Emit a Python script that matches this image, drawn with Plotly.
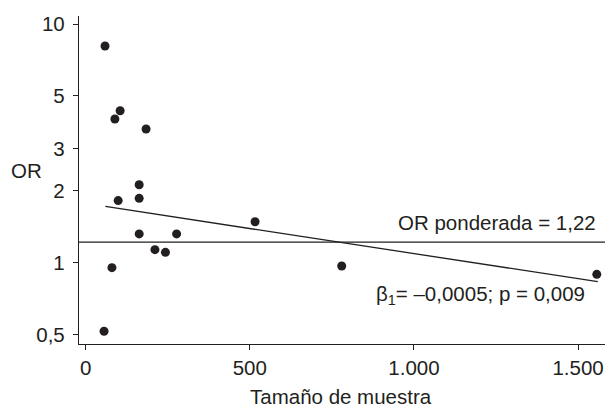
import plotly.graph_objects as go

# Data
sample_size = [59, 105, 89, 184, 163, 99, 163, 163, 277, 211, 243, 80, 56, 516, 780, 1557]
odds_ratio = [8.09, 4.33, 4.0, 3.63, 2.12, 1.82, 1.86, 1.32, 1.32, 1.134, 1.105, 0.953, 0.516, 1.485, 0.969, 0.894]

pooled_or = 1.22
reg_x = [60, 1560]
reg_or = [1.72, 0.833]

y_tickvals = [0.5, 1, 2, 3, 5, 10]
y_ticktext = ["0,5", "1", "2", "3", "5", "10"]
x_tickvals = [0, 500, 1000, 1500]
x_ticktext = ["0", "500", "1.000", "1.500"]

x_range = [-20.3, 1582]
y_range_log = [-0.3406, 1.0335]

ink = "#231f20"
font = "Liberation Sans, Arial, sans-serif"
fs = 20.5

fig = go.Figure()
fig.add_trace(go.Scatter(x=x_range, y=[pooled_or, pooled_or], mode="lines",
                         line=dict(color=ink, width=1.3), hoverinfo="skip", cliponaxis=False))
fig.add_trace(go.Scatter(x=reg_x, y=reg_or, mode="lines",
                         line=dict(color=ink, width=1.3), hoverinfo="skip"))
fig.add_trace(go.Scatter(x=sample_size, y=odds_ratio, mode="markers",
                         marker=dict(color=ink, size=9), cliponaxis=False))

fig.update_layout(
    width=605, height=409,
    margin=dict(l=79, r=0, t=16, b=65),
    paper_bgcolor="white", plot_bgcolor="white",
    showlegend=False,
    font=dict(family=font, size=fs, color=ink),
    xaxis=dict(range=x_range, tickvals=x_tickvals, ticktext=x_ticktext,
               showline=True, linecolor=ink, linewidth=1.3, ticks="outside",
               ticklen=5, tickwidth=1.3, tickcolor=ink, showgrid=False, zeroline=False,
               tickfont=dict(size=fs, color=ink), ticklabelstandoff=0),
    yaxis=dict(type="log", range=y_range_log, tickvals=y_tickvals, ticktext=y_ticktext,
               showline=True, linecolor=ink, linewidth=1.3, ticks="outside",
               ticklen=5, tickwidth=1.3, tickcolor=ink, showgrid=False, zeroline=False,
               tickfont=dict(size=fs, color=ink), ticklabelstandoff=4),
)

fig.add_annotation(text="OR", xref="paper", yref="paper", x=-0.099, y=0.53,
                   xanchor="center", yanchor="middle", showarrow=False,
                   font=dict(size=fs, color=ink))
fig.add_annotation(text="Tamaño de muestra", xref="paper", yref="paper", x=0.498, y=-0.16,
                   xanchor="center", yanchor="middle", showarrow=False,
                   font=dict(size=fs, color=ink))
fig.add_annotation(text="OR ponderada = 1,22", x=1560, y=0.170,
                   xanchor="right", yanchor="middle", showarrow=False,
                   font=dict(size=fs, color=ink))
fig.add_annotation(text="β<sub>1</sub>= –0,0005; p = 0,009", x=1527, y=-0.135,
                   xanchor="right", yanchor="middle", showarrow=False,
                   font=dict(size=fs, color=ink))

fig.write_html("out.html", config={"displayModeBar": False},
               post_script="document.body.style.margin='0';document.body.style.overflow='hidden';")
